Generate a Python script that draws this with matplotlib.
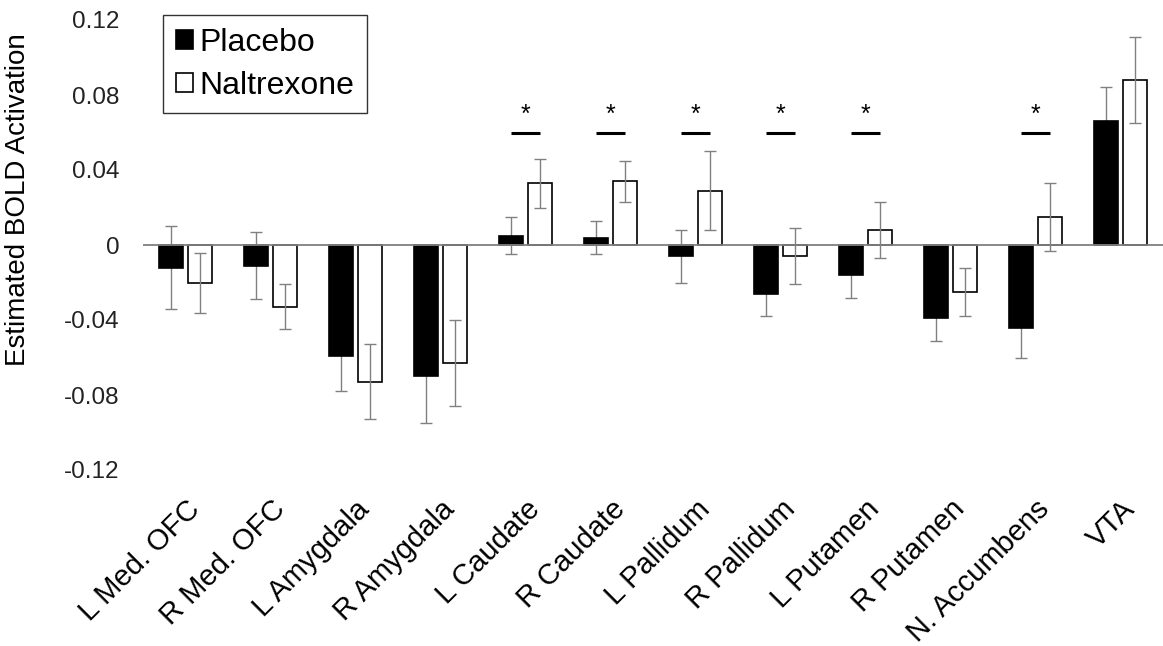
import numpy as np
import matplotlib.pyplot as plt

plt.rcParams['font.family'] = ['Liberation Sans', 'DejaVu Sans']

regions = ['L Med. OFC', 'R Med. OFC', 'L Amygdala', 'R Amygdala', 'L Caudate',
           'R Caudate', 'L Pallidum', 'R Pallidum', 'L Putamen', 'R Putamen',
           'N. Accumbens', 'VTA']
placebo = [-0.012, -0.011, -0.059, -0.070, 0.005, 0.004, -0.006, -0.026, -0.016, -0.039, -0.044, 0.066]
placebo_err = [0.022, 0.018, 0.019, 0.025, 0.010, 0.009, 0.014, 0.012, 0.012, 0.012, 0.016, 0.0185]
naltrexone = [-0.020, -0.033, -0.073, -0.063, 0.033, 0.034, 0.029, -0.006, 0.008, -0.025, 0.015, 0.088]
naltrexone_err = [0.016, 0.012, 0.020, 0.023, 0.013, 0.011, 0.021, 0.015, 0.015, 0.013, 0.018, 0.023]
significant = [4, 5, 6, 7, 8, 10]
yticks = [-0.12, -0.08, -0.04, 0, 0.04, 0.08, 0.12]
ytick_labels = ['-0.12', '-0.08', '-0.04', '0', '0.04', '0.08', '0.12']

x = np.arange(len(regions))
w = 0.285
off = 0.175

fig = plt.figure(figsize=(11.63, 6.46), dpi=100)
ax = fig.add_axes([143 / 1163, 1 - 470 / 646, 1020 / 1163, 450 / 646])

# black bars sit above the error bars, white bars below
ax.bar(x - off, placebo, w, color='black', edgecolor='black', lw=1.2, zorder=3, label='Placebo')
ax.bar(x + off, naltrexone, w, color='white', edgecolor='black', lw=1.2, zorder=1, label='Naltrexone')
ax.errorbar(x - off, placebo, yerr=placebo_err, fmt='none', ecolor='#808080', elinewidth=1.0,
            capsize=4, capthick=1.0, zorder=2)
ax.errorbar(x + off, naltrexone, yerr=naltrexone_err, fmt='none', ecolor='#808080', elinewidth=1.0,
            capsize=4, capthick=1.0, zorder=2)
ax.axhline(0, color='#808080', lw=1.3, zorder=4)

# significance marks
for i in significant:
    ax.plot([i - 0.175, i + 0.175], [0.060, 0.060], color='black', lw=2.2, solid_capstyle='butt')
    ax.text(i, 0.0695, '*', ha='center', va='center', fontsize=18)

ax.set_xlim(-0.5, len(regions) - 0.5)
ax.set_ylim(-0.12, 0.12)
ax.set_yticks(yticks)
ax.set_yticklabels(ytick_labels)
ax.set_xticks(x)
ax.set_xticklabels(regions, rotation=45, ha='right', rotation_mode='anchor')
ax.tick_params(axis='y', length=0, pad=17, labelsize=17.5, labelcolor='#222222')
ax.tick_params(axis='x', length=0, pad=18, labelsize=21)
for s in ax.spines.values():
    s.set_visible(False)

ax.set_ylabel('Estimated BOLD Activation', fontsize=20)
ax.yaxis.set_label_coords(-0.11, 0.60)

leg = ax.legend(loc='upper left', bbox_to_anchor=(0.0196, 1.011), borderaxespad=0,
                fancybox=False, edgecolor='black', fontsize=23, handlelength=0.55,
                handleheight=0.55, handletextpad=0.2, labelspacing=0.4, borderpad=0.4)
leg.get_frame().set_linewidth(1.0)

fig.savefig('out.png', dpi=100)
